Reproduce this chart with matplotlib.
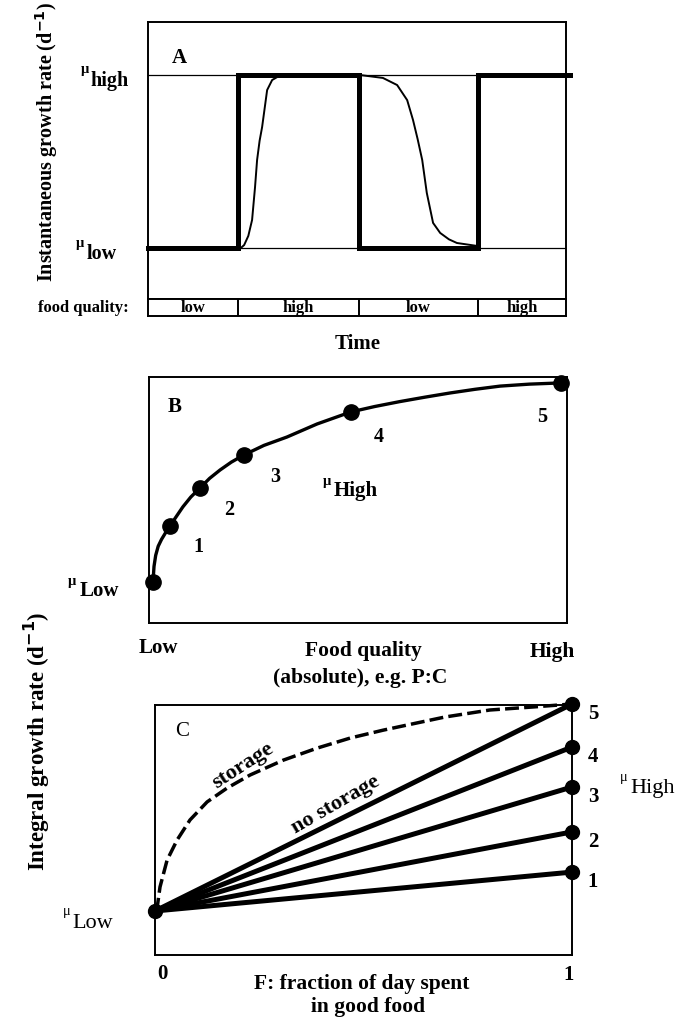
import matplotlib
matplotlib.use("Agg")
import matplotlib.pyplot as plt
import numpy as np

# ---------------- data ----------------
# Panel A
phase_bounds = [0.0, 0.215, 0.505, 0.789, 1.0]
food_quality = ["low", "high", "low", "high"]
phase_rate = [0, 1, 0, 1]          # 0 = mu_low, 1 = mu_high
resp_t = [0.215, 0.222, 0.230, 0.240, 0.249, 0.256, 0.261, 0.267, 0.273, 0.285, 0.297,
          0.309, 0.325, 0.40, 0.507, 0.562, 0.596, 0.620, 0.634, 0.645, 0.656, 0.667,
          0.682, 0.699, 0.720, 0.739, 0.787]
resp_y = [0.0, 0.0, 0.017, 0.07, 0.162, 0.35, 0.509, 0.62, 0.699, 0.913, 0.971,
          0.988, 0.996, 1.0, 1.0, 0.983, 0.942, 0.855, 0.740, 0.63, 0.509, 0.318,
          0.145, 0.087, 0.05, 0.029, 0.012]

# Panel B
qual_pts = [0.0096, 0.050, 0.122, 0.227, 0.483, 0.986]
rate_pts = [0.167, 0.394, 0.549, 0.683, 0.858, 0.976]
curve_q = [0.0096, 0.012, 0.016, 0.022, 0.030, 0.040, 0.050, 0.065, 0.081, 0.100, 0.122,
           0.145, 0.170, 0.197, 0.227, 0.275, 0.330, 0.402, 0.483, 0.540, 0.600,
           0.660, 0.720, 0.780, 0.840, 0.910, 0.986]
curve_r = [0.167, 0.230, 0.275, 0.312, 0.340, 0.368, 0.394, 0.432, 0.472, 0.512, 0.549,
           0.588, 0.622, 0.654, 0.683, 0.722, 0.756, 0.809, 0.858, 0.880, 0.900,
           0.918, 0.935, 0.950, 0.963, 0.971, 0.976]
b_labels = ["1", "2", "3", "4", "5"]

# Panel C
c_end = [0.188, 0.382, 0.599, 0.792, 1.0]
c_labels = ["1", "2", "3", "4", "5"]
stor_F = [0.0, 0.005, 0.012, 0.029, 0.053, 0.084, 0.125, 0.173, 0.228, 0.308, 0.389,
          0.469, 0.548, 0.606, 0.695, 0.803, 0.909, 1.0]
stor_y = [0.0, 0.014, 0.116, 0.246, 0.343, 0.440, 0.527, 0.594, 0.657, 0.729, 0.787,
          0.836, 0.874, 0.899, 0.937, 0.971, 0.986, 1.0]

# ---------------- figure ----------------
W, H = 694, 1027
fig = plt.figure(figsize=(W / 100, H / 100), dpi=100)
plt.rcParams['font.family'] = ['Liberation Serif', 'DejaVu Serif']

def fx(px):
    return px / W

def fy(py):
    return 1 - py / H

def ftext(px, py, s, size=15, weight='bold', ha='center', va='center', **kw):
    fig.text(fx(px), fy(py), s, fontsize=size, fontweight=weight, ha=ha, va=va, **kw)

def style_box(ax, lw=1.4):
    ax.set_xticks([])
    ax.set_yticks([])
    for sp in ax.spines.values():
        sp.set_linewidth(lw)
        sp.set_color('black')

# ---- Panel A ----
axA = fig.add_axes([fx(148), fy(299), (566 - 148) / W, (299 - 22) / H])
axA.set_xlim(0, 1)
axA.set_ylim((248 - 299) / 173, (248 - 22) / 173)
style_box(axA)
axA.axhline(0, color='black', lw=0.9)
axA.axhline(1, color='black', lw=0.9)
sx, sy = [], []
for i, r in enumerate(phase_rate):
    sx += [phase_bounds[i], phase_bounds[i + 1]]
    sy += [r, r]
sx[-1] = 1.01
axA.plot(sx, sy, color='black', lw=3.6, solid_joinstyle='miter', clip_on=False, zorder=3)
axA.plot(resp_t, resp_y, color='black', lw=1.4, zorder=2)
axA.text(0.075, (248 - 58) / 173, "A", fontsize=15, fontweight='bold', ha='center', va='center')

# food quality strip
axS = fig.add_axes([fx(148), fy(316), (566 - 148) / W, (316 - 299) / H])
axS.set_xlim(0, 1)
axS.set_ylim(0, 1)
style_box(axS)
for b in phase_bounds[1:-1]:
    axS.axvline(b, color='black', lw=1.4)
for i, lab in enumerate(food_quality):
    axS.text((phase_bounds[i] + phase_bounds[i + 1]) / 2, 0.45, lab, fontsize=12,
             fontweight='bold', ha='center', va='center')
ftext(129, 308, "food quality:", size=12, ha='right')

ftext(85, 69, "μ", size=10.5)
ftext(90, 81, "high", size=14.5, ha='left')
ftext(80, 243, "μ", size=10.5)
ftext(87, 254, "low", size=14.5, ha='left')
fig.text(fx(47), fy(142), "Instantaneous growth rate (d$^{\\mathbf{-1}}$)", rotation=90,
         fontsize=14.5, fontweight='bold', ha='center', va='center')
ftext(358, 344, "Time", size=15)

# ---- Panel B ----
axB = fig.add_axes([fx(149), fy(623), 418 / W, 246 / H])
axB.set_xlim(0, 1)
axB.set_ylim(0, 1)
style_box(axB)
axB.plot(curve_q, curve_r, color='black', lw=2.4, solid_capstyle='round',
         solid_joinstyle='round', zorder=2)
axB.plot(qual_pts, rate_pts, 'o', color='black', ms=11, clip_on=False, zorder=3)
axB.text((175 - 149) / 418, (623 - 407) / 246, "B", fontsize=15, fontweight='bold',
         ha='center', va='center')
b_lab_px = [(198, 547), (229, 510), (275, 477), (379, 437), (542, 417)]
for lab, (px, py) in zip(b_labels, b_lab_px):
    ftext(px, py, lab, size=14.5)
ftext(327, 482, "μ", size=10.5)
ftext(334, 491, "High", size=15, ha='left')
ftext(72, 581, "μ", size=10.5)
ftext(80, 591, "Low", size=15, ha='left')
ftext(158, 648, "Low", size=15)
ftext(363, 651, "Food quality", size=15.5)
ftext(552, 652, "High", size=15.5)
ftext(360, 678, "(absolute), e.g. P:C", size=15.5)

# ---- Panel C ----
axC = fig.add_axes([fx(155), fy(955), 417 / W, 250 / H])
axC.set_xlim(0, 1)
axC.set_ylim((911 - 955) / 207, (911 - 705) / 207)
style_box(axC)
for v in c_end:
    axC.plot([0, 1], [0, v], color='black', lw=3.6, solid_capstyle='round', zorder=2)
axC.plot([1] * len(c_end), c_end, 'o', color='black', ms=10, clip_on=False, zorder=3)
axC.plot([0], [0], 'o', color='black', ms=10, clip_on=False, zorder=3)
axC.plot(stor_F, stor_y, color='black', lw=2.5, dashes=(4.0, 1.5), clip_on=False, zorder=2)
axC.text((182 - 155) / 417, (911 - 732) / 207, "C", fontsize=15, ha='center', va='center')
for lab, v in zip(c_labels, c_end):
    ftext(593, 911 - v * 207 + 10, lab, size=15)
ftext(624, 777, "μ", size=10.5, weight='normal')
ftext(630, 788, "High", size=16, ha='left', weight='normal')
ftext(67, 912, "μ", size=10.5, weight='normal')
ftext(72, 923, "Low", size=16, ha='left', weight='normal')
fig.text(fx(243), fy(766), "storage", rotation=33, fontsize=16, fontweight='bold',
         ha='center', va='center')
fig.text(fx(336), fy(805), "no storage", rotation=30, fontsize=16, fontweight='bold',
         ha='center', va='center')
fig.text(fx(37), fy(741), "Integral growth rate (d$^{\\mathbf{-1}}$)", rotation=90,
         fontsize=16.5, fontweight='bold', ha='center', va='center')
ftext(162, 974, "0", size=15)
ftext(569, 975, "1", size=15)
ftext(362, 984, "F: fraction of day spent", size=15.5)
ftext(368, 1007, "in good food", size=15.5)

fig.savefig("out.png", dpi=100)
